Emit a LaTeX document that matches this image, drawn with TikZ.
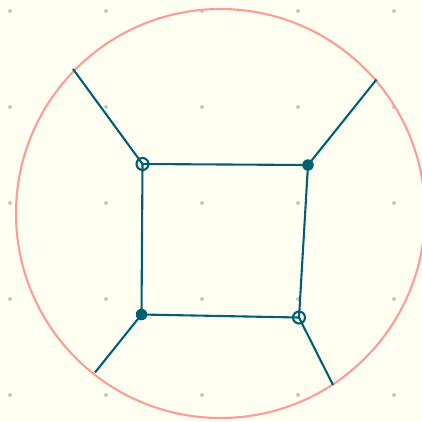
\documentclass[tikz,border=0pt]{standalone}
\usetikzlibrary{positioning}
\definecolor{bgCream}{HTML}{FFFFF2}
\definecolor{edgeTeal}{HTML}{005F73}
\definecolor{ringPink}{HTML}{FF9A9A}
\definecolor{dotGrey}{HTML}{C8C8C2}

\begin{document}
\begin{tikzpicture}[
    x=1pt, y=-1pt,
    edge/.style={draw=edgeTeal, line width=2.1pt},
    ring/.style={draw=ringPink, line width=2.1pt},
    full/.style={circle, fill=edgeTeal, inner sep=0pt, minimum size=11.5pt},
    hollow/.style={circle, draw=edgeTeal, line width=2.1pt, inner sep=0pt, minimum size=12pt},
  ]
  \fill[bgCream] (0,0) rectangle (422,421);
  \useasboundingbox (0,0) rectangle (422,421);

  % grid of dots
  \foreach \gx in {10,106,202,298,394}
    \foreach \gy in {11,107,203,299,395}
      \fill[dotGrey] (\gx,\gy) circle[radius=2pt];

  \draw[ring] (220.5,213.5) circle[radius=204.5];

  % outer ends, on the ring
  \coordinate (oTL) at (73,69);
  \coordinate (oTR) at (376.5,79.5);
  \coordinate (oBL) at (95,372.5);
  \coordinate (oBR) at (333,385);

  % inner square
  \node[hollow] (vTL) at (142.5,164) {};
  \node[full]   (vTR) at (308,165) {};
  \node[full]   (vBL) at (141.5,314.5) {};
  \node[hollow] (vBR) at (299,317.5) {};

  \draw[edge] (vTL.center) -- (vTR.center) -- (vBR.center) -- (vBL.center) -- cycle;
  \draw[edge] (vTL.center) -- (oTL);
  \draw[edge] (vTR.center) -- (oTR);
  \draw[edge] (vBL.center) -- (oBL);
  \draw[edge] (vBR.center) -- (oBR);
\end{tikzpicture}
\end{document}
